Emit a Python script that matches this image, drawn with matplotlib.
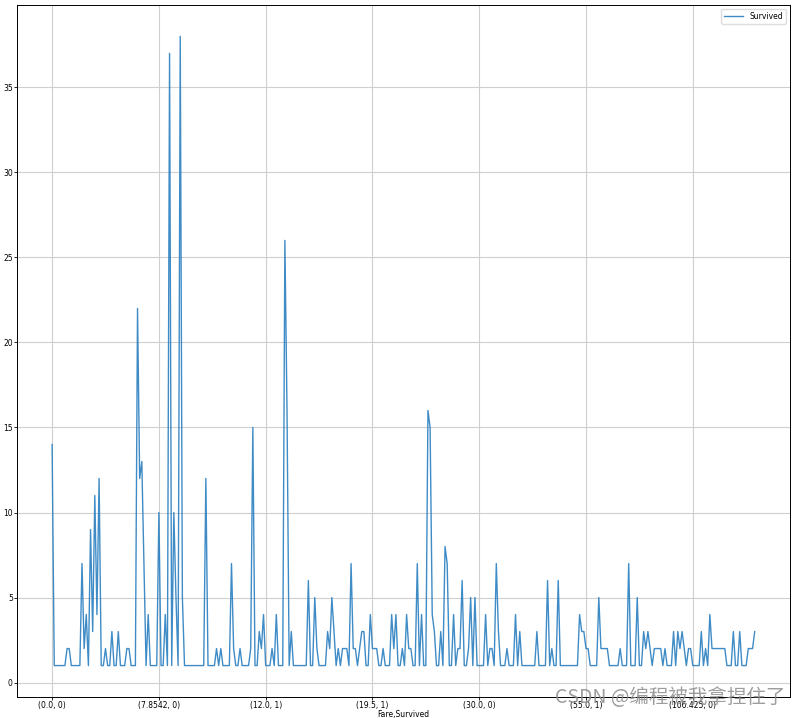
import matplotlib
matplotlib.use("Agg")
import matplotlib.pyplot as plt

# groupby(['Fare', 'Survived']) counts
survived_counts = [
    14, 1, 1, 1, 1, 1, 1, 2, 2, 1,
    1, 1, 1, 1, 7, 2, 4, 1, 9, 3,
    11, 4, 12, 1, 1, 2, 1, 1, 3, 1,
    1, 3, 1, 1, 1, 2, 2, 1, 1, 1,
    22, 12, 13, 7, 1, 4, 1, 1, 1, 1,
    10, 1, 1, 4, 1, 37, 1, 10, 5, 1,
    38, 5, 1, 1, 1, 1, 1, 1, 1, 1,
    1, 1, 12, 1, 1, 1, 1, 2, 1, 2,
    1, 1, 1, 1, 7, 2, 1, 1, 2, 1,
    1, 1, 1, 2, 15, 1, 1, 3, 2, 4,
    1, 1, 1, 2, 1, 4, 1, 1, 1, 26,
    16, 1, 3, 1, 1, 1, 1, 1, 1, 1,
    6, 1, 1, 5, 2, 1, 1, 1, 1, 3,
    2, 5, 3, 1, 2, 1, 2, 2, 2, 1,
    7, 2, 2, 1, 2, 3, 3, 1, 1, 4,
    2, 2, 2, 1, 1, 2, 1, 1, 1, 4,
    2, 4, 1, 1, 2, 1, 4, 2, 2, 1,
    1, 7, 1, 4, 1, 1, 16, 15, 4, 3,
    1, 1, 3, 1, 8, 7, 1, 1, 4, 1,
    2, 2, 6, 1, 1, 2, 5, 1, 5, 1,
    1, 1, 1, 4, 1, 2, 2, 1, 7, 3,
    1, 1, 1, 2, 1, 1, 1, 4, 1, 3,
    1, 1, 1, 1, 1, 1, 1, 3, 1, 1,
    1, 1, 6, 1, 2, 1, 1, 6, 1, 1,
    1, 1, 1, 1, 1, 1, 1, 4, 3, 3,
    2, 2, 1, 1, 1, 1, 5, 2, 2, 2,
    2, 1, 1, 1, 1, 1, 2, 1, 1, 1,
    7, 1, 1, 1, 5, 1, 1, 3, 2, 3,
    2, 1, 2, 2, 2, 2, 1, 2, 1, 1,
    1, 3, 1, 3, 2, 3, 2, 1, 2, 2,
    1, 1, 1, 1, 3, 1, 2, 1, 4, 2,
    2, 2, 2, 2, 2, 2, 1, 1, 1, 3,
    1, 1, 3, 1, 1, 1, 2, 2, 2, 3,
]

# labels shown every 50 groups
tick_labels = ["(0.0, 0)", "(7.8542, 0)", "(12.0, 1)", "(19.5, 1)",
               "(30.0, 0)", "(55.0, 1)", "(106.425, 0)"]

fig = plt.figure(figsize=(7.97, 7.18), dpi=100)
ax = fig.add_axes([0.0213, 0.0292, 0.9697, 0.964])

x = list(range(len(survived_counts)))
ax.plot(x, survived_counts, color="#2a7fc0", lw=1.0, alpha=0.9, label="Survived")

ax.set_xticks(list(range(0, len(survived_counts), 50)))
ax.set_xticklabels(tick_labels)
ax.set_yticks([0, 5, 10, 15, 20, 25, 30, 35])
ax.tick_params(labelsize=5.5, length=2, width=0.6, pad=1)
ax.grid(True, color="#cfcfcf", lw=0.8)
ax.set_xlabel("Fare,Survived", fontsize=5.5, labelpad=-0.5)

for s in ax.spines.values():
    s.set_linewidth(0.7)

ax.legend(loc="upper right", fontsize=5.5, handlelength=2.5, framealpha=1,
          edgecolor="#dddddd")

fig.text(0.986, 0.029, "CSDN @编程被我拿捏住了", ha="right", va="center",
         fontsize=14, color="#8c8c8c", alpha=0.85,
         family=["Noto Sans CJK SC", "DejaVu Sans"])

fig.savefig("out.png", dpi=100)
